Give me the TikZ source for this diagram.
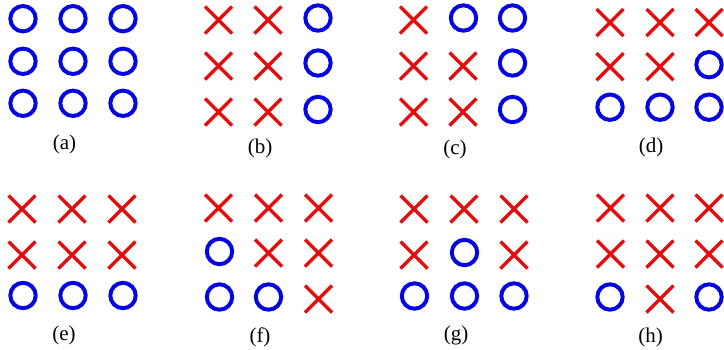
\documentclass[tikz,border=0pt]{standalone}
\usepackage{fontspec}
\setmainfont{Liberation Serif}
\usetikzlibrary{shapes.misc}
\definecolor{oblue}{RGB}{5,5,225}
\definecolor{xred}{RGB}{228,12,12}
\tikzset{
  omark/.style={circle, draw=oblue, line width=4pt, minimum size=25.4pt, inner sep=0pt, outer sep=0pt},
  xmark/.style={cross out, draw=xred, line width=3.4pt, minimum size=27pt, inner sep=0pt, outer sep=0pt},
  lbl/.style={font=\fontsize{21}{24}\selectfont, inner sep=0pt}
}
\newcommand\markX[3]{\node[xmark] (#1) at (#2,#3) {};}
\newcommand\markO[3]{\node[omark] (#1) at (#2,#3) {};}
\begin{document}
\begin{tikzpicture}[x=1pt,y=-1pt]
\useasboundingbox (0,0) rectangle (724,349);
\clip (0,0) rectangle (724,349);
% (a)
\markO{a11}{23}{18.7}\markO{a12}{73}{18.7}\markO{a13}{123}{18.7}
\markO{a21}{23}{61.3}\markO{a22}{73}{61.3}\markO{a23}{123}{61.3}
\markO{a31}{23}{103.3}\markO{a32}{73}{103.3}\markO{a33}{123}{103.3}
\node[lbl] (la) at (64.5,144.5) {(a)};
% (b)
\markX{b11}{218.5}{20}\markX{b12}{268}{20}\markO{b13}{318}{18}
\markX{b21}{218.5}{66}\markX{b22}{268}{66}\markO{b23}{318}{63}
\markX{b31}{218.5}{112}\markX{b32}{268}{112}\markO{b33}{318}{109.5}
\node[lbl] (lb) at (260,148) {(b)};
% (c)
\markX{c11}{413.5}{20}\markO{c12}{463.5}{18}\markO{c13}{512.5}{18}
\markX{c21}{413.5}{66}\markX{c22}{463}{66}\markO{c23}{512.5}{63}
\markX{c31}{413.5}{112}\markX{c32}{463}{112}\markO{c33}{512.5}{109.5}
\node[lbl] (lc) at (455,149) {(c)};
% (d)
\markX{d11}{610}{22.5}\markX{d12}{660}{22.5}\markX{d13}{709}{22.5}
\markX{d21}{610}{66.7}\markX{d22}{660}{66.7}\markO{d23}{709}{64.7}
\markO{d31}{610}{107.2}\markO{d32}{660}{107.2}\markO{d33}{709}{107.2}
\node[lbl] (ld) at (651,147.5) {(d)};
% (e)
\markX{e11}{22}{209}\markX{e12}{72}{209}\markX{e13}{122}{209}
\markX{e21}{22}{255}\markX{e22}{72}{255}\markX{e23}{122}{255}
\markO{e31}{23}{295.5}\markO{e32}{73}{295.5}\markO{e33}{123}{295.5}
\node[lbl] (le) at (64,335) {(e)};
% (f)
\markX{f11}{218.5}{208}\markX{f12}{268.5}{208}\markX{f13}{318.5}{208}
\markO{f21}{219.5}{251.5}\markX{f22}{268.5}{253}\markX{f23}{318.5}{253}
\markO{f31}{219.5}{297}\markO{f32}{268.5}{297}\markX{f33}{318.5}{299}
\node[lbl] (lf) at (260,337) {(f)};
% (g)
\markX{g11}{414}{209}\markX{g12}{464}{209}\markX{g13}{514}{209}
\markX{g21}{414}{255}\markO{g22}{464.5}{252.5}\markX{g23}{514}{255}
\markO{g31}{414.5}{296}\markO{g32}{464.5}{296}\markO{g33}{514}{296}
\node[lbl] (lg) at (456,335) {(g)};
% (h)
\markX{h11}{610.5}{208}\markX{h12}{660}{208}\markX{h13}{709}{208}
\markX{h21}{610.5}{254}\markX{h22}{660}{254}\markX{h23}{709}{254}
\markO{h31}{610}{297}\markX{h32}{660}{299}\markO{h33}{709}{297}
\node[lbl] (lh) at (650.5,337) {(h)};
\end{tikzpicture}
\end{document}
